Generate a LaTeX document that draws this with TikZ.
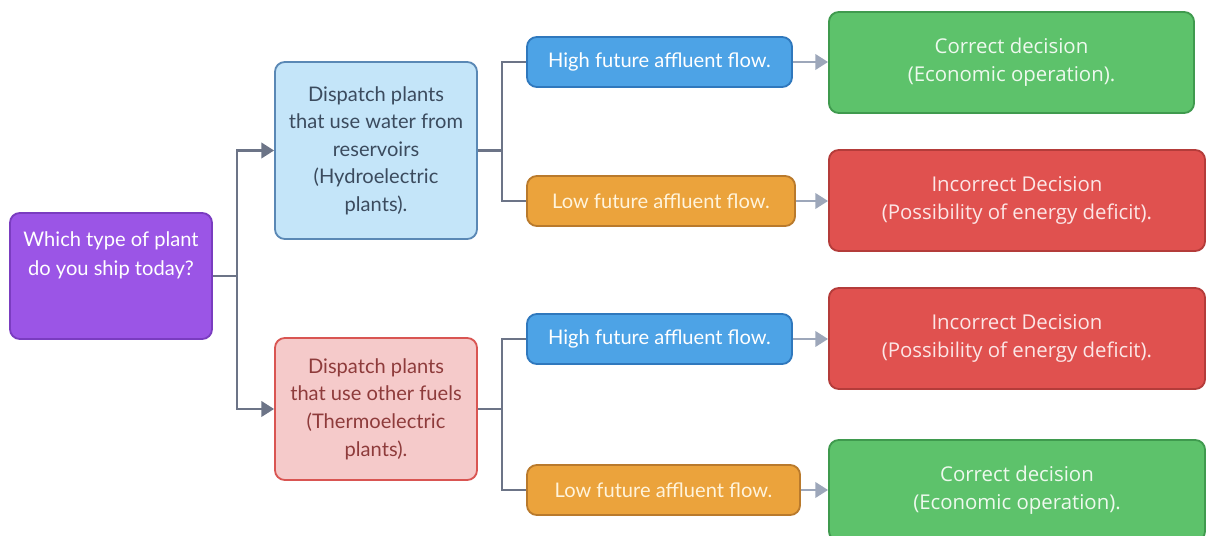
\documentclass[tikz,border=0pt]{standalone}
\usepackage{fontspec}
\setmainfont{Lato}
\newfontfamily\decfont{Open Sans}
\usetikzlibrary{arrows.meta, positioning, calc}

\definecolor{qfill}{HTML}{9B55E6}
\definecolor{qline}{HTML}{7A3CC0}
\definecolor{hydfill}{HTML}{C4E5F9}
\definecolor{hydline}{HTML}{5A88B5}
\definecolor{hydtext}{HTML}{3B4B5E}
\definecolor{thmfill}{HTML}{F5CACA}
\definecolor{thmline}{HTML}{D95552}
\definecolor{thmtext}{HTML}{8E3B3B}
\definecolor{highfill}{HTML}{4DA3E6}
\definecolor{highline}{HTML}{2F78BD}
\definecolor{lowfill}{HTML}{EBA33C}
\definecolor{lowline}{HTML}{B97A2C}
\definecolor{lowtext}{HTML}{FFF4DC}
\definecolor{okfill}{HTML}{5DC26B}
\definecolor{okline}{HTML}{3F9A4E}
\definecolor{oktext}{HTML}{EEF9EE}
\definecolor{badfill}{HTML}{E0514F}
\definecolor{badline}{HTML}{B43C3A}
\definecolor{badtext}{HTML}{FCE6E6}
\definecolor{wire}{HTML}{6C7487}
\definecolor{wirelight}{HTML}{9DA7BA}

\begin{document}
\begin{tikzpicture}[x=0.025cm, y=-0.025cm,
    box/.style={draw, rounded corners=7pt, line width=1.3pt, align=center, inner sep=0pt},
    leftbox/.style={box, minimum width=5.05cm, font=\fontsize{14.3}{19.6}\selectfont},
    flowbox/.style={box, minimum height=1.25cm, font=\fontsize{14.3}{17}\selectfont},
    endbox/.style={box, minimum height=2.525cm, font=\decfont\fontsize{14.5}{20}\selectfont},
    link/.style={draw=wire, line width=1.6pt},
    tip/.style={-{Triangle[length=9pt,width=11pt]}},
    lightlink/.style={draw=wirelight, line width=1.6pt, -{Triangle[length=9pt,width=11pt]}}
]
\useasboundingbox (0,0) rectangle (1206,536);

        \node[leftbox, fill=qfill, draw=qline, minimum height=3.15cm] (q) at (111,276) {};
        \node[align=center, text=white, font=\fontsize{14.3}{20.5}\selectfont] (qtext) at (111,255)
            {Which type of plant\\do you ship today?};
%
        \node[leftbox, fill=hydfill, draw=hydline, text=hydtext, minimum height=4.425cm] (hydro) at (376,150.5)
            {Dispatch plants\\that use water from\\reservoirs\\(Hydroelectric\\plants).};
        \node[leftbox, fill=thmfill, draw=thmline, text=thmtext, minimum height=3.55cm] (thermo) at (376,409)
            {Dispatch plants\\that use other fuels\\(Thermoelectric\\plants).};
%
        \node[flowbox, fill=highfill, draw=highline, text=white, minimum width=6.625cm] (high1) at (659.5,62) {High future affluent flow.};
        \node[flowbox, fill=lowfill, draw=lowline, text=lowtext, minimum width=6.7cm] (low1) at (661,201) {Low future affluent flow.};
        \node[flowbox, fill=highfill, draw=highline, text=white, minimum width=6.625cm] (high2) at (659.5,339) {High future affluent flow.};
        \node[flowbox, fill=lowfill, draw=lowline, text=lowtext, minimum width=6.825cm] (low2) at (663.5,490) {Low future affluent flow.};
%
        \node[endbox, fill=okfill, draw=okline, text=oktext, minimum width=9.125cm] (ok1) at (1011.5,62.5)
            {Correct decision\\(Economic operation).};
        \node[endbox, fill=badfill, draw=badline, text=badtext, minimum width=9.4cm] (bad1) at (1017,200.5)
            {Incorrect Decision\\(Possibility of energy deficit).};
        \node[endbox, fill=badfill, draw=badline, text=badtext, minimum width=9.4cm] (bad2) at (1017,338.5)
            {Incorrect Decision\\(Possibility of energy deficit).};
        \node[endbox, fill=okfill, draw=okline, text=oktext, minimum width=9.4cm] (ok2) at (1017,490.5)
            {Correct decision\\(Economic operation).};
%
        \coordinate (qj) at (237,276);
        \draw[link] (q.east) -- (qj);
        \draw[link,tip] (qj) |- (hydro.west);
        \draw[link,tip] (qj) |- (thermo.west);
%
        \coordinate (hj) at (502,150.5);
        \draw[link] (hydro.east) -- (hj);
        \draw[link] (hj) |- (high1.west);
        \draw[link] (hj) |- (low1.west);
%
        \coordinate (tj) at (502,409);
        \draw[link] (thermo.east) -- (tj);
        \draw[link] (tj) |- (high2.west);
        \draw[link] (tj) |- (low2.west);
%
        \draw[lightlink] (high1.east) -- (high1.east -| ok1.west);
        \draw[lightlink] (low1.east) -- (low1.east -| bad1.west);
        \draw[lightlink] (high2.east) -- (high2.east -| bad2.west);
        \draw[lightlink] (low2.east) -- (low2.east -| ok2.west);
\end{tikzpicture}
\end{document}
